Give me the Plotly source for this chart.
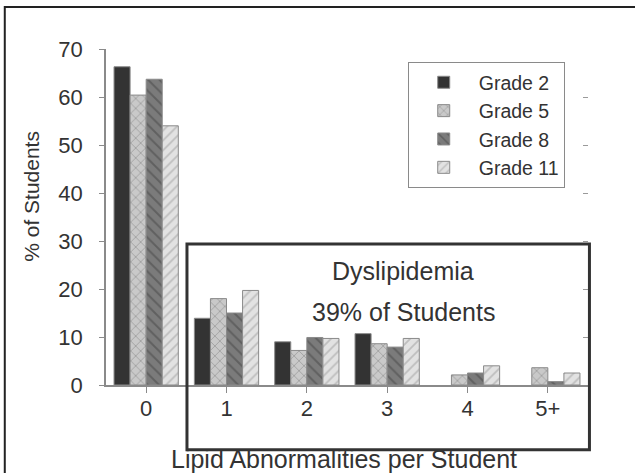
import plotly.graph_objects as go

categories = ["0", "1", "2", "3", "4", "5+"]
grade2 = [66.3, 13.9, 9.0, 10.7, None, None]
grade5 = [60.4, 18.0, 7.2, 8.6, 2.1, 3.6]
grade8 = [63.7, 15.0, 9.9, 7.9, 2.5, 0.7]
grade11 = [54.0, 19.7, 9.7, 9.7, 4.0, 2.5]
series_names = ["Grade 2", "Grade 5", "Grade 8", "Grade 11"]
y_ticks = [0, 10, 20, 30, 40, 50, 60, 70]

FONT = "Liberation Sans, Arial, sans-serif"
TXT = "#333333"

styles = [
    dict(color="#333333", pattern=dict(shape="")),
    dict(color="#c9c9c9", pattern=dict(shape="x", fgcolor="#7a7a7a", size=7, solidity=0.25)),
    dict(color="#7b7b7b", pattern=dict(shape="\\", fgcolor="#454545", size=8, solidity=0.25)),
    dict(color="#e2e2e2", pattern=dict(shape="/", fgcolor="#9a9a9a", size=7, solidity=0.25)),
]

fig = go.Figure()
for name, vals, st in zip(series_names, [grade2, grade5, grade8, grade11], styles):
    fig.add_trace(go.Bar(
        x=categories, y=vals, name=name,
        marker=dict(color=st["color"], pattern=st["pattern"],
                    line=dict(color="#8a8a8a", width=1)),
    ))

# invisible trace for right-side mirrored tick marks
fig.add_trace(go.Scatter(x=[], y=[], yaxis="y2", showlegend=False, hoverinfo="skip"))

fig.update_layout(
    width=635, height=473,
    margin=dict(l=106, r=47, t=49, b=88),
    paper_bgcolor="white", plot_bgcolor="white",
    font=dict(family=FONT, color=TXT, size=20),
    barmode="group", bargap=0.2, bargroupgap=0,
    showlegend=True,
    legend=dict(
        x=0.626, y=0.961, xanchor="left", yanchor="top",
        bgcolor="white", bordercolor="#8a8a8a", borderwidth=1,
        font=dict(size=19.5, family=FONT, color=TXT),
        itemwidth=60, tracegroupgap=0,
    ),
    xaxis=dict(
        range=[-0.5, 5.5], showline=True, linecolor="#8a8a8a", linewidth=1.5,
        ticks="outside", ticklen=6, tickcolor="#8a8a8a",
        tickfont=dict(size=22, family=FONT, color=TXT),
        ticklabelstandoff=-3, showgrid=False, zeroline=False,
    ),
    yaxis=dict(
        range=[0, 70], tickvals=y_ticks, showline=True, linecolor="#8a8a8a", linewidth=1.5,
        ticks="outside", ticklen=5, tickcolor="#8a8a8a",
        tickfont=dict(size=22, family=FONT, color=TXT),
        ticklabelstandoff=12, showgrid=False, zeroline=False,
    ),
    yaxis2=dict(
        range=[0, 70], tickvals=y_ticks, overlaying="y", side="right",
        showline=False, ticks="inside", ticklen=5, tickcolor="#9a9a9a",
        showticklabels=False, showgrid=False, zeroline=False,
    ),
    shapes=[
        # dyslipidemia box
        dict(type="rect", xref="paper", yref="paper",
             x0=0.168, x1=1.003, y0=-0.193, y1=0.42,
             line=dict(color="#333333", width=3), layer="above"),
        # outer frame
        dict(type="rect", xref="paper", yref="paper",
             x0=-0.21, x1=1.12, y0=-0.30, y1=1.125,
             line=dict(color="#222222", width=2), layer="above"),
    ],
    annotations=[
        dict(text="Dyslipidemia", x=3.2, y=0.338, xref="x", yref="paper",
             xanchor="center", yanchor="middle",
             showarrow=False, font=dict(size=25, family=FONT, color=TXT)),
        dict(text="39% of Students", x=3.2, y=0.218, xref="x", yref="paper",
             xanchor="center", yanchor="middle",
             showarrow=False, font=dict(size=25, family=FONT, color=TXT)),
        dict(text="% of Students", x=-0.156, y=0.5625, xref="paper", yref="paper",
             xanchor="center", yanchor="middle",
             textangle=-90, showarrow=False, font=dict(size=21, family=FONT, color=TXT)),
        dict(text="Lipid Abnormalities per Student", x=0.493, y=-0.219, xref="paper", yref="paper",
             xanchor="center", yanchor="middle",
             showarrow=False, font=dict(size=25, family=FONT, color=TXT)),
    ],
)

fig.write_html("out.html", config={"displayModeBar": False},
               post_script="document.body.style.margin='0';document.body.style.padding='0';")
